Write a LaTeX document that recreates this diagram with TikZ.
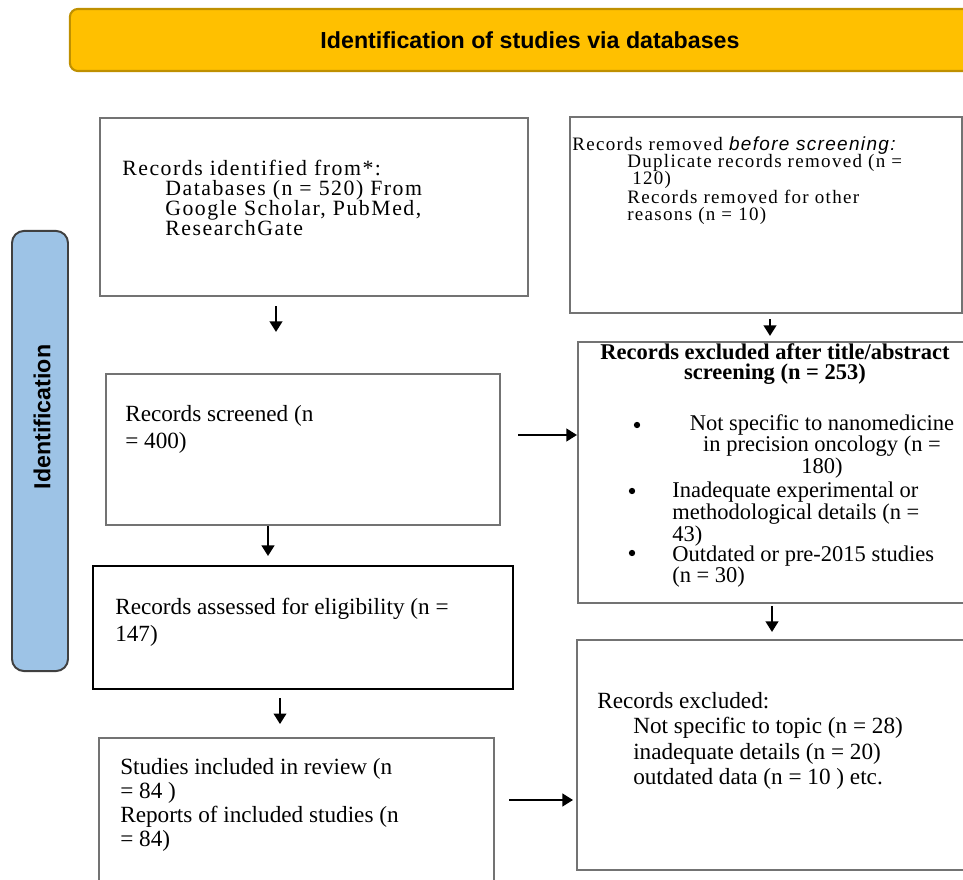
\documentclass[tikz,border=0pt]{standalone}
\usepackage{fontspec}
\setmainfont{Liberation Serif}
\setsansfont{Liberation Sans}
\newfontfamily\spreadfont[LetterSpace=7]{Liberation Serif}
\newfontfamily\spreadsans[LetterSpace=7]{Liberation Sans}
\usetikzlibrary{arrows.meta}

\definecolor{bannerfill}{RGB}{255,192,0}
\definecolor{bannerline}{RGB}{191,144,0}
\definecolor{sidefill}{RGB}{157,195,230}
\definecolor{sideline}{RGB}{64,64,64}

\tikzset{
  box/.style={draw=black!55, line width=1.4pt, inner sep=0pt},
  txt/.style={anchor=north west, inner sep=0pt, align=left},
  dot/.style={circle, fill=black, inner sep=0pt, minimum size=4.5pt},
  arr/.style={-{Triangle[width=9pt,length=7.5pt]}, line width=1.4pt},
}

\begin{document}
\begin{tikzpicture}[x=0.025cm, y=-0.025cm]
  \useasboundingbox (0,0) rectangle (963,880);
  % header and side label
  \node[draw=bannerline, fill=bannerfill, line width=1.5pt, rounded corners=0.2cm,
        minimum width=23cm, minimum height=1.55cm,
        font=\sffamily\bfseries\fontsize{16.5}{19}\selectfont]
    (banner) at (530,40) {Identification of studies via databases};
  \node[draw=sideline, fill=sidefill, line width=1.4pt, rounded corners=0.3cm,
        minimum width=1.4cm, minimum height=11cm] (side) at (40,451) {};
  \node[rotate=90, font=\sffamily\bfseries\fontsize{16.5}{19}\selectfont]
    (sidelabel) at (42,417) {Identification};

  % boxes
  \node[box, minimum width=10.7cm, minimum height=4.45cm] (ident) at (314,207) {};
  \node[box, minimum width=9.8cm, minimum height=4.9cm] (removed) at (766,215) {};
  \node[box, minimum width=9.85cm, minimum height=3.775cm] (screened) at (303,449.5) {};
  \node[box, minimum width=9.8cm, minimum height=6.525cm] (exclA) at (774,472.5) {};
  \node[box, draw=black, minimum width=10.5cm, minimum height=3.075cm] (assessed) at (303,627.5) {};
  \node[box, minimum width=9.825cm, minimum height=5.75cm] (exclB) at (773.5,755) {};
  \node[box, minimum width=9.875cm, minimum height=3.925cm] (included) at (296.5,816.5) {};

  % texts
  \node[txt, font=\spreadfont\fontsize{15.5}{14.2}\selectfont] (identtext) at (122,160)
    {Records identified from*:\\
     \hspace*{1.075cm}Databases (n = 520) From\\
     \hspace*{1.075cm}Google Scholar, PubMed,\\
     \hspace*{1.075cm}ResearchGate};
  \node[txt, font=\spreadfont\fontsize{13.5}{12.3}\selectfont] (removedtext) at (572,136)
    {Records removed {\spreadsans\itshape before screening:}\\
     \hspace*{1.375cm}Duplicate records removed (n =\\
     \hspace*{1.5cm}120)\\
     \hspace*{1.375cm}Records removed for other\\
     \hspace*{1.375cm}reasons (n = 10)};
  \node[txt, font=\fontsize{16.5}{19}\selectfont] (screenedtext) at (125,405)
    {Records screened (n\\= 400)};
  \node[anchor=north, inner sep=0pt, align=center, font=\bfseries\fontsize{16}{14.6}\selectfont]
    (exclAhead) at (775,343) {Records excluded after title/abstract\\screening (n = 253)};
  \node[dot] (dotA) at (637,425) {};
  \node[dot] (dotB) at (632,491) {};
  \node[dot] (dotC) at (632,553) {};
  \node[anchor=north, inner sep=0pt, align=center, font=\fontsize{16}{14.2}\selectfont]
    (itemA) at (822,414) {Not specific to nanomedicine\\in precision oncology (n =\\180)};
  \node[txt, font=\fontsize{16}{14.2}\selectfont] (itemB) at (672,482)
    {Inadequate experimental or\\methodological details (n =\\43)};
  \node[txt, font=\fontsize{16}{14.8}\selectfont] (itemC) at (672,546)
    {Outdated or pre-2015 studies\\(n = 30)};
  \node[txt, font=\fontsize{16.5}{19}\selectfont] (assessedtext) at (115,598)
    {Records assessed for eligibility (n =\\147)};
  \node[txt, font=\fontsize{16.5}{18}\selectfont] (exclBtext) at (597,692)
    {Records excluded:\\
     \hspace*{0.9cm}Not specific to topic (n = 28)\\
     \hspace*{0.9cm}inadequate details (n = 20)\\
     \hspace*{0.9cm}outdated data (n = 10 ) etc.};
  \node[txt, font=\fontsize{16.5}{17}\selectfont] (includedtext) at (120,758)
    {Studies included in review (n\\= 84 )\\Reports of included studies (n\\= 84)};

  % arrows
  \coordinate (c1) at (276,0);
  \coordinate (c2) at (770,0);
  \coordinate (c3) at (0,435);
  \coordinate (c4) at (268,0);
  \coordinate (c5) at (772,0);
  \coordinate (c6) at (280,0);
  \coordinate (c7) at (0,800);
  \draw[arr, shorten <=6.4pt, shorten >=29.2pt] (ident.south -| c1) -- (screened.north -| c1);
  \draw[arr, shorten <=3.6pt, shorten >=3.6pt] (removed.south -| c2) -- (exclA.north -| c2);
  \draw[arr, shorten <=12.1pt] (screened.east |- c3) -- (exclA.west |- c3);
  \draw[arr, shorten >=6.4pt] (screened.south -| c4) -- (assessed.north -| c4);
  \draw[arr, shorten <=1.4pt, shorten >=5pt] (exclA.south -| c5) -- (exclB.north -| c5);
  \draw[arr, shorten <=5.7pt, shorten >=9.2pt] (assessed.south -| c6) -- (included.north -| c6);
  \draw[arr, shorten <=10pt, shorten >=2.1pt] (included.east |- c7) -- (exclB.west |- c7);
\end{tikzpicture}
\end{document}
